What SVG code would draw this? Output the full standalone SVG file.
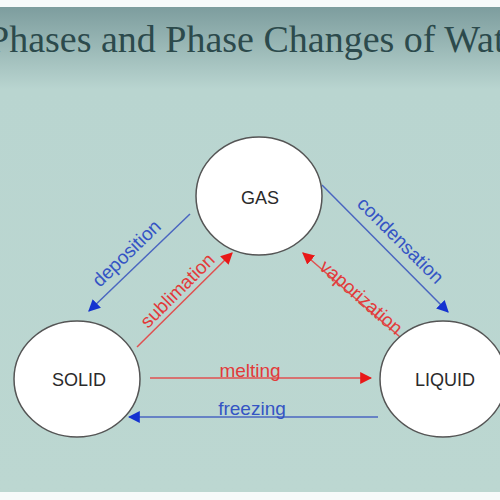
<svg xmlns="http://www.w3.org/2000/svg" width="500" height="500" viewBox="0 0 500 500">
<defs>
<linearGradient id="bg" x1="0" y1="0" x2="0" y2="1">
<stop offset="0" stop-color="#7d9d9e"/>
<stop offset="0.17" stop-color="#b9d5d0"/>
<stop offset="1" stop-color="#bcd7d1"/>
</linearGradient>
<marker id="ab" viewBox="0 0 10 10" refX="9" refY="5" markerWidth="12" markerHeight="12" markerUnits="userSpaceOnUse" orient="auto">
<path d="M0,0 L10,5 L0,10 z" fill="#1432d0"/>
</marker>
<marker id="ar" viewBox="0 0 10 10" refX="9" refY="5" markerWidth="12" markerHeight="12" markerUnits="userSpaceOnUse" orient="auto">
<path d="M0,0 L10,5 L0,10 z" fill="#e81818"/>
</marker>
</defs>
<style>
.node ellipse{fill:#ffffff;stroke:#555;stroke-width:1.5}
.node text{font-family:"Liberation Sans",Arial,sans-serif;font-size:18px;fill:#2a2a2a;text-anchor:middle}
.blue{stroke:#4a66c0;stroke-width:1.5;fill:none;marker-end:url(#ab)}
.red{stroke:#e05050;stroke-width:1.5;fill:none;marker-end:url(#ar)}
.lb{font-family:"Liberation Sans",Arial,sans-serif;font-size:19px;fill:#3454c4;text-anchor:middle}
.lr{font-family:"Liberation Sans",Arial,sans-serif;font-size:19px;fill:#e23a3a;text-anchor:middle}
</style>
<rect x="0" y="0" width="500" height="500" fill="#f7fafa"/>
<rect x="0" y="7" width="500" height="485" fill="url(#bg)"/>
<text x="-12" y="52" font-family="Liberation Serif,'Times New Roman',serif" font-size="38" fill="#2c4a4c">Phases and Phase Changes of Water</text>
<g id="connectors">
<line class="blue" x1="190" y1="214" x2="89" y2="311"/>
<line class="red" x1="137" y1="347" x2="232" y2="253"/>
<line class="blue" x1="322" y1="185" x2="448" y2="312"/>
<line class="red" x1="400" y1="337" x2="303" y2="253"/>
<line class="red" x1="150" y1="378" x2="371" y2="378"/>
<line class="blue" x1="378" y1="417" x2="129" y2="417"/>
<text class="lb" transform="translate(131,258) rotate(-44)">deposition</text>
<text class="lr" transform="translate(182,295) rotate(-45)">sublimation</text>
<text class="lb" transform="translate(396,245) rotate(45)">condensation</text>
<text class="lr" transform="translate(357,302) rotate(41)">vaporization</text>
<text class="lr" x="250" y="377">melting</text>
<text class="lb" x="252" y="415">freezing</text>
</g>
<g id="gas" class="node"><ellipse cx="259" cy="196" rx="63" ry="59"/><text x="260" y="204">GAS</text></g>
<g id="solid" class="node"><ellipse cx="77" cy="379" rx="63" ry="58"/><text x="79" y="386">SOLID</text></g>
<g id="liquid" class="node"><ellipse cx="443" cy="379" rx="63" ry="58"/><text x="445" y="386">LIQUID</text></g>
</svg>
